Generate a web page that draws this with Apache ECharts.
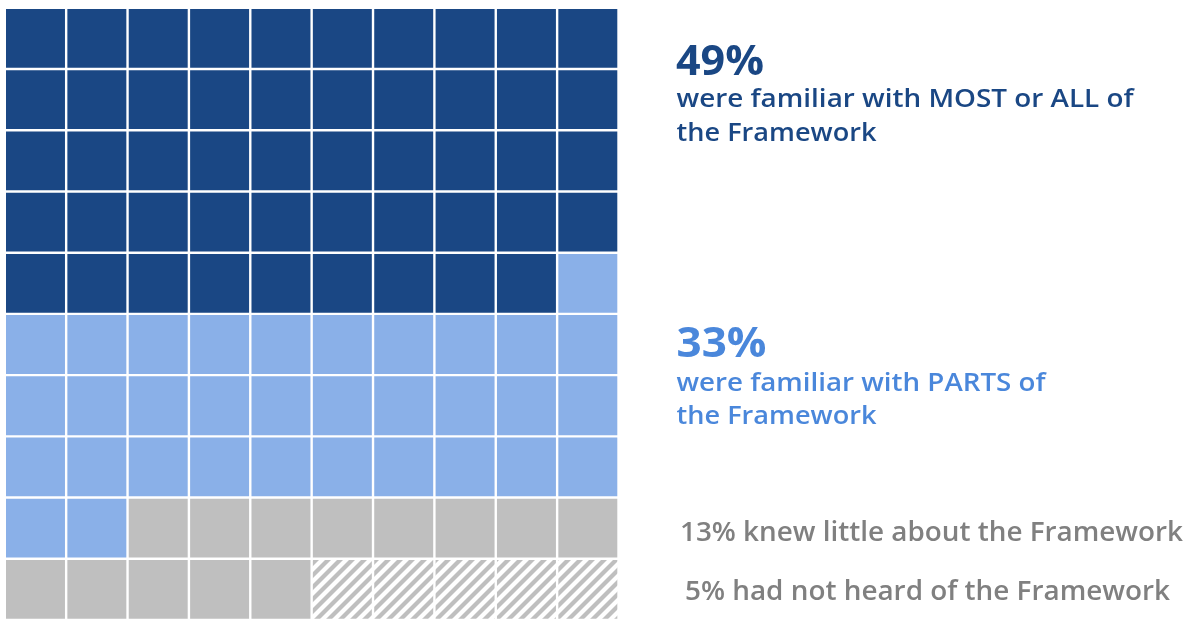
<!DOCTYPE html>
<html>
<head>
<meta charset="utf-8">
<script src="https://cdn.jsdelivr.net/npm/echarts@6/dist/echarts.min.js"></script>
<style>
  html, body { margin: 0; padding: 0; background: #ffffff; }
  #chart { width: 1195px; height: 620px; }
</style>
</head>
<body>
<div id="chart"></div>
<script>
// Survey answer groups, in the order they fill the 10x10 waffle (row by row)
const groups = ['most', 'parts', 'little', 'none'];
const shares = [49, 33, 13, 5];
const groupColors = ['#1a4784', '#8ab0e8', '#bfbfbf', null]; // null = hatched cell

const columns = ['1', '2', '3', '4', '5', '6', '7', '8', '9', '10'];
const rows = ['1', '2', '3', '4', '5', '6', '7', '8', '9', '10'];

// Side annotations
const headlines = ['49%', '33%'];
const headlineText = [
  ['were familiar with MOST or ALL of', 'the Framework'],
  ['were familiar with PARTS of', 'the Framework']
];
const noteText = ['13% knew little about the Framework', '5% had not heard of the Framework'];

// One cell per percentage point, filled left to right, top to bottom
const cells = [];
let k = 0;
shares.forEach(function (n, g) {
  for (let i = 0; i < n; i++, k++) {
    cells.push([k % columns.length, Math.floor(k / columns.length), g]);
  }
});

// Diagonal hatch tile for the "had not heard" group
function makeHatch() {
  const size = 12;
  const cv = document.createElement('canvas');
  cv.width = size; cv.height = size;
  const ctx = cv.getContext('2d');
  ctx.fillStyle = '#ffffff';
  ctx.fillRect(0, 0, size, size);
  ctx.strokeStyle = '#bfbfbf';
  ctx.lineWidth = 4.2;
  ctx.lineCap = 'square';
  [-size, 0, size].forEach(function (o) {
    ctx.beginPath();
    ctx.moveTo(o, size);
    ctx.lineTo(o + size, 0);
    ctx.stroke();
  });
  return cv;
}
const hatch = { image: makeHatch(), repeat: 'repeat' };

const GAP = 2.4;
const blueDark = '#1a4784';
const blueLight = '#4a87db';
const grayText = '#808080';
const fontFam = '"Open Sans", "Noto Sans", sans-serif';

// Text line: left edge, alphabetic baseline, width the line should span
const measureCtx = document.createElement('canvas').getContext('2d');
function textLine(text, left, baseline, width, size, weight, color) {
  const font = weight + ' ' + size + 'px ' + fontFam;
  measureCtx.font = font;
  measureCtx.textBaseline = 'middle';
  const natural = measureCtx.measureText(text).width;
  const toBaseline = measureCtx.measureText('H').actualBoundingBoxDescent;
  return {
    type: 'text',
    x: left,
    y: baseline - toBaseline,
    scaleX: width / natural,
    style: { text: text, font: font, fill: color, align: 'left', verticalAlign: 'middle' }
  };
}

function draw() {
  const chart = echarts.init(document.getElementById('chart'), null, { renderer: 'canvas' });
  chart.setOption({
    animation: false,
    backgroundColor: '#ffffff',
    grid: { left: 4.8, top: 7.8, width: 613.7, height: 613.4 },
    xAxis: { type: 'category', data: columns, show: false },
    yAxis: { type: 'category', data: rows, inverse: true, show: false },
    series: [{
      type: 'custom',
      data: cells,
      encode: { x: 0, y: 1 },
      renderItem: function (params, api) {
        const c = api.coord([api.value(0), api.value(1)]);
        const s = api.size([1, 1]);
        const w = s[0] - GAP, h = s[1] - GAP;
        const g = api.value(2);
        return {
          type: 'rect',
          shape: { x: c[0] - w / 2, y: c[1] - h / 2, width: w, height: h },
          style: { fill: groupColors[g] || hatch }
        };
      }
    }],
    graphic: [
      textLine(headlines[0], 676, 75, 88, 41, 700, blueDark),
      textLine(headlineText[0][0], 676.5, 106.5, 457, 25, 600, blueDark),
      textLine(headlineText[0][1], 676.5, 140.5, 200, 25, 600, blueDark),
      textLine(headlines[1], 676.5, 357, 90, 41, 700, blueLight),
      textLine(headlineText[1][0], 676.5, 391, 369, 25, 600, blueLight),
      textLine(headlineText[1][1], 676.5, 423.5, 200, 25, 600, blueLight),
      textLine(noteText[0], 680, 541, 503, 27, 600, grayText),
      textLine(noteText[1], 685, 600, 485, 27, 600, grayText)
    ]
  });
}

if (document.fonts && document.fonts.load) {
  Promise.all([
    document.fonts.load('600 25px "Open Sans"'),
    document.fonts.load('700 41px "Open Sans"')
  ]).then(draw, draw);
} else {
  draw();
}
</script>
</body>
</html>
